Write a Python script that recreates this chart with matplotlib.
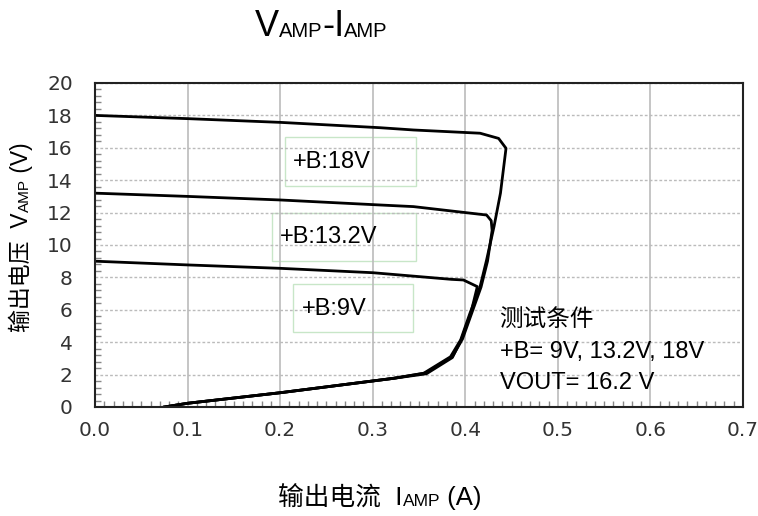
import numpy as np
import matplotlib.pyplot as plt
from matplotlib.ticker import MultipleLocator

plt.rcParams['font.family'] = ['Liberation Sans', 'Noto Sans CJK SC', 'DejaVu Sans']

# curves: current (A) vs amp voltage (V)
i_18 = [0.0, 0.1, 0.2, 0.308, 0.344, 0.416, 0.436, 0.444, 0.438, 0.431, 0.423,
        0.416, 0.405, 0.395, 0.384, 0.355, 0.3225, 0.2, 0.1, 0.075]
v_18 = [18.0, 17.8, 17.57, 17.24, 17.1, 16.9, 16.58, 15.97, 13.2, 11.13, 9.07,
        7.43, 5.78, 4.14, 3.1, 2.08, 1.77, 0.88, 0.23, 0.0]

i_13 = [0.0, 0.1, 0.2, 0.308, 0.344, 0.423, 0.428, 0.429, 0.424, 0.417, 0.407,
        0.397, 0.386, 0.357, 0.3225, 0.2, 0.1, 0.075]
v_13 = [13.2, 13.0, 12.78, 12.47, 12.37, 11.85, 11.5, 10.9, 9.0, 7.4, 5.8,
        4.2, 3.1, 2.1, 1.77, 0.88, 0.23, 0.0]

i_9 = [0.0, 0.1, 0.2, 0.3, 0.385, 0.398, 0.413, 0.406, 0.396, 0.386, 0.358,
       0.3225, 0.2, 0.1, 0.075]
v_9 = [9.0, 8.77, 8.56, 8.29, 7.88, 7.84, 7.43, 5.8, 4.2, 3.05, 2.05,
       1.77, 0.88, 0.23, 0.0]

W, H = 758, 516
fig = plt.figure(figsize=(W / 100, H / 100), dpi=100)
ax = fig.add_axes([95/W, 1-407/H, 648/W, 324/H])

for xs, ys in [(i_18, v_18), (i_13, v_13), (i_9, v_9)]:
    ax.plot(xs, ys, color='black', lw=2.0, solid_joinstyle='round')

ax.set_xlim(0, 0.7)
ax.set_ylim(0, 20)
ax.xaxis.set_major_locator(MultipleLocator(0.1))
ax.xaxis.set_minor_locator(MultipleLocator(0.01))
ax.yaxis.set_major_locator(MultipleLocator(2))
ax.yaxis.set_minor_locator(MultipleLocator(0.4))
ax.set_xticks(np.arange(0, 0.71, 0.1))
ax.set_xticklabels(['%.1f' % v for v in np.arange(0, 0.71, 0.1)])
ax.tick_params(which='major', length=0, labelsize=14.5, labelcolor='#333333',
               labelfontfamily='DejaVu Sans')
ax.tick_params(axis='x', which='major', pad=10)
ax.tick_params(axis='y', which='major', pad=16)
ax.tick_params(which='minor', direction='in', length=4, color='#888888', width=1)

ax.grid(axis='x', which='major', color='#bbbbbb', lw=1.2)
ax.grid(axis='y', which='major', color='#bbbbbb', lw=1, ls=(0, (2, 1.5)))
for s in ax.spines.values():
    s.set_linewidth(1.5)
    s.set_color('#222222')

# label boxes
boxes = [((0.205, 13.64), 0.142, 3.03, '+B:18V', 0.214, 15.1),
         ((0.191, 9.0), 0.156, 2.95, '+B:13.2V', 0.2, 10.5),
         ((0.2143, 4.6), 0.129, 3.0, '+B:9V', 0.223, 6.05)]
for (bx, by), bw, bh, txt, tx, ty in boxes:
    ax.add_patch(plt.Rectangle((bx, by), bw, bh, fill=False, ec='#c8e6c8', lw=1))
    ax.text(tx, ty, txt, fontsize=17, va='center', ha='left')

ax.text(0.437, 5.4, '测试条件', fontsize=17, va='center', ha='left')
ax.text(0.437, 3.4, '+B= 9V, 13.2V, 18V', fontsize=17, va='center', ha='left')
ax.text(0.437, 1.5, 'VOUT= 16.2 V', fontsize=17, va='center', ha='left')


def place(pieces, cx, cy, rotation=0):
    # pieces: (text, fontsize, baseline shift px); centred on (cx, cy) pixels from top-left
    r = fig.canvas.get_renderer()
    texts, widths = [], []
    for s, fs, dy in pieces:
        t = fig.text(0, 0, s, fontsize=fs, ha='left', va='baseline')
        widths.append(t.get_window_extent(r).width)
        texts.append(t)
    total = sum(widths)
    pos = -total / 2
    for t, w, (s, fs, dy) in zip(texts, widths, pieces):
        if rotation == 0:
            x, y = cx + pos, cy + 8 + dy
        else:
            x, y = cx + 8 + dy, cy - pos
            t.set_rotation(90)
            t.set_rotation_mode('anchor')
        t.set_position((x / W, 1 - y / H))
        pos += w


place([('V', 26, 0), ('AMP', 14.5, 1), ('-I', 26, 0), ('AMP', 14.5, 1)], 321, 28)
place([('输出电流  I', 18.5, 0), ('AMP', 12.5, 1), (' (A)', 18.5, 0)], 380, 497)
place([('输出电压  V', 16.5, 0), ('AMP', 11, 1), (' (V)', 16.5, 0)], 20, 237, rotation=90)

fig.savefig('out.png', dpi=100)
